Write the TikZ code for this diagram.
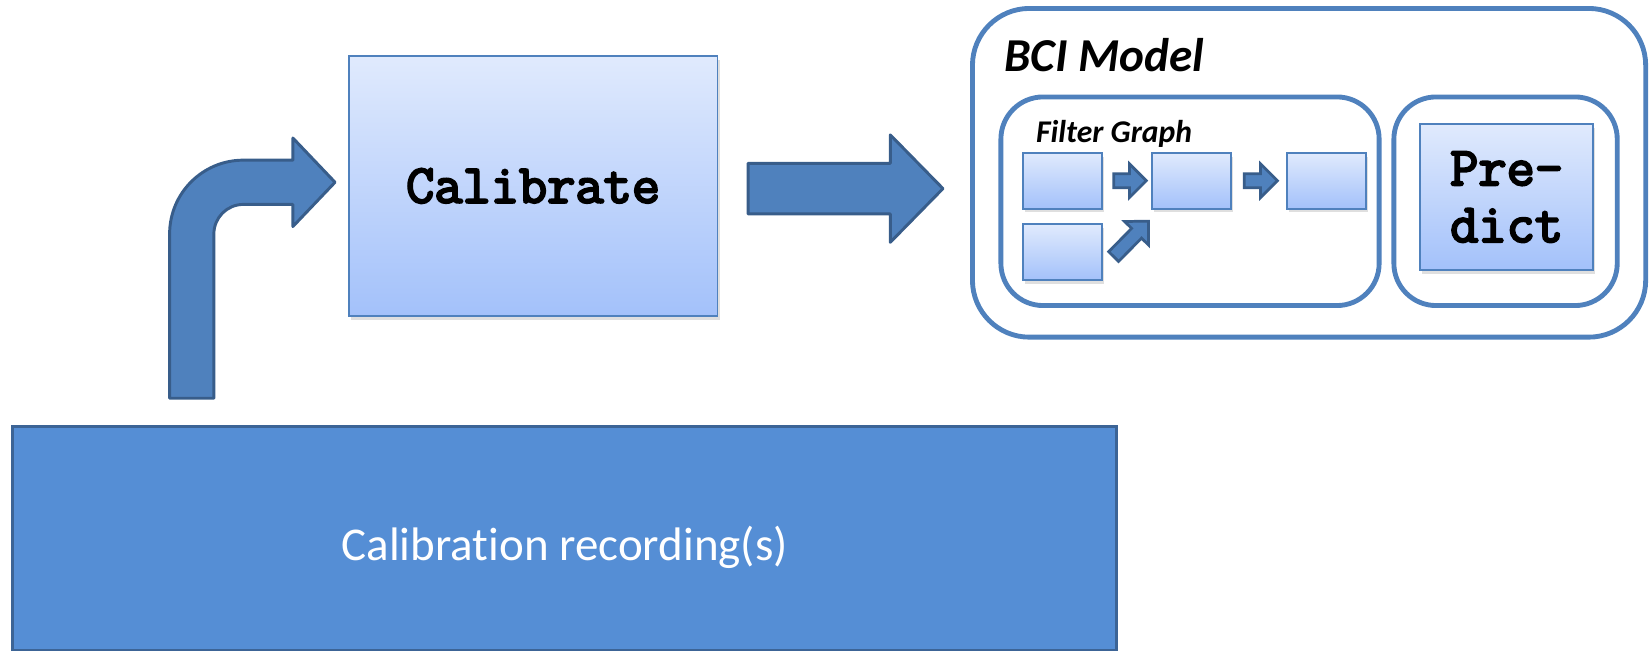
\documentclass[tikz,border=0pt]{standalone}
\usepackage{fontspec}
\setmainfont{Carlito}[Ligatures=NoCommon]
\newfontfamily\codefont{Latin Modern Mono}[AutoFakeBold=4]
\usetikzlibrary{calc,shadows}

\definecolor{accent}{RGB}{79,129,189}
\definecolor{accentdark}{RGB}{56,93,138}
\definecolor{recfill}{RGB}{85,142,213}
\definecolor{recline}{RGB}{60,100,150}
\definecolor{boxtop}{RGB}{224,234,253}
\definecolor{boxbottom}{RGB}{163,193,250}

\tikzset{
  lightbox/.style={draw=accent, line width=0.9pt, top color=boxtop, bottom color=boxbottom,
    inner sep=0pt, outer sep=0pt,
    drop shadow={shadow xshift=1pt, shadow yshift=-1.8pt, opacity=0.25}},
  container/.style={draw=accent, line width=2.3pt, fill=white, inner sep=0pt, outer sep=0pt},
  bigarrow/.style={fill=accent, draw=accentdark, line width=1.4pt, line join=round},
  smallarrow/.style={fill=accent, draw=accentdark, line width=1.3pt, line join=miter},
  codetext/.style={font=\codefont\bfseries\fontsize{26}{27}\selectfont, align=center},
  titletext/.style={font=\bfseries\itshape\fontsize{22.4}{26}\selectfont, anchor=base west, inner sep=0pt},
  subtitletext/.style={font=\bfseries\itshape\fontsize{15}{18}\selectfont, anchor=base west, inner sep=0pt},
}

% block arrow: #1 style, #2 tail, #3 tip, #4 shaft half width, #5 head half width, #6 head length
\newcommand{\blockarrow}[6]{%
  \path (#2) coordinate (ba-s) (#3) coordinate (ba-t)
        ($(ba-t)!#6!(ba-s)$) coordinate (ba-h);
  \draw[#1] ($(ba-s)!#4!90:(ba-t)$) -- ($(ba-h)!#4!-90:(ba-s)$)
    -- ($(ba-h)!#5!-90:(ba-s)$) -- (ba-t) -- ($(ba-h)!#5!90:(ba-s)$)
    -- ($(ba-h)!#4!90:(ba-s)$) -- ($(ba-s)!#4!-90:(ba-t)$) -- cycle;}

\begin{document}
\begin{tikzpicture}[x=0.5pt, y=-0.5pt]
\useasboundingbox (0,0) rectangle (1568,618);

% calibration stage
\node[lightbox, minimum width=175pt, minimum height=123.5pt, codetext] (cal) at (506,176.5) {Calibrate};

% recordings
\node[fill=recfill, draw=recline, line width=1.3pt, minimum width=524pt, minimum height=106pt,
      inner sep=0pt, outer sep=0pt] (rec) at (536,511) {};
\node[anchor=base, text=white, font=\fontsize{22.3}{26}\selectfont, inner sep=0pt] (reclabel)
      at ($(rec.center)+(0,21)$) {Calibration recording(s)};

% BCI model
\node[container, rounded corners=27pt, minimum width=319.5pt, minimum height=156pt] (bci) at (1242.5,164) {};
\node[titletext] (bcititle) at (953,68) {BCI Model};

\node[container, rounded corners=20pt, minimum width=179.5pt, minimum height=99pt] (fg) at (1129.5,191) {};
\node[subtitletext] (fgtitle) at (983,135) {Filter Graph};

\node[container, rounded corners=20pt, minimum width=106pt, minimum height=99pt] (pc) at (1429,191) {};
\node[lightbox, minimum width=82pt, minimum height=69pt, codetext] (pred) at (1430,187) {Pre-\\dict};

% filter graph stages
\node[lightbox, minimum width=37.5pt, minimum height=26.5pt] (f1) at (1008.5,171.5) {};
\node[lightbox, minimum width=37.5pt, minimum height=26.5pt] (f2) at (1130.5,171.5) {};
\node[lightbox, minimum width=37.5pt, minimum height=26.5pt] (f3) at (1259,171.5) {};
\node[lightbox, minimum width=37.5pt, minimum height=26.5pt] (f4) at (1008.5,239.5) {};

\blockarrow{smallarrow}{$(f1.east)+(11,0)$}{$(f2.west)+(-5,0)$}{3.3pt}{8pt}{8pt}
\blockarrow{smallarrow}{$(f2.east)+(13,0)$}{$(f3.west)+(-9,0)$}{3.3pt}{8pt}{8pt}
\blockarrow{smallarrow}{$(f4.east)+(11,4)$}{$(f2.south west)+(-3,12)$}{3.3pt}{8pt}{8pt}

% calibrate -> model
\blockarrow{bigarrow}{$(cal.east)+(29,2.5)$}{$(bci.west)+(-28,15)$}{12pt}{25.5pt}{25pt}

% recordings -> calibrate (bent arrow)
\draw[bigarrow] ($(rec.north west)+(149,-27)$) -- (161,222) arc (180:270:70)
  -- (278,152) -- (278,131) -- ($(cal.west)+(-13,-3.5)$) -- (278,215) -- (278,194)
  -- (231,194) arc (270:180:28) -- (203,378) -- cycle;
\end{tikzpicture}
\end{document}
